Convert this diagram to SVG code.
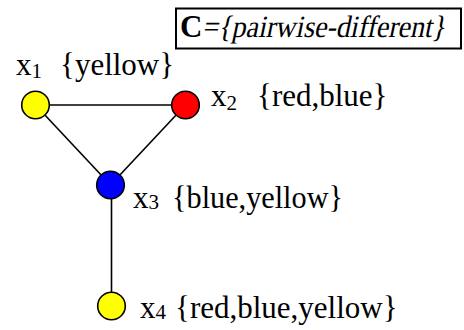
<svg xmlns="http://www.w3.org/2000/svg" width="464" height="330" viewBox="0 0 464 330">
<style>
text{font-family:"Liberation Serif","Times New Roman",serif;font-size:31px;fill:#000}
.sub{font-size:21px}
.edge{stroke:#000;stroke-width:1.6;fill:none}
.node{stroke:#000;stroke-width:1.6}
</style>
<rect width="464" height="330" fill="#fff"/>
<g id="constraint">
<rect x="176" y="8.5" width="285" height="40" fill="none" stroke="#000" stroke-width="2"/>
<text x="180" y="37" font-weight="bold" font-size="29">C</text>
<text x="209.9" y="37" font-size="28" transform="skewX(-12)" textLength="243" lengthAdjust="spacingAndGlyphs">={pairwise-different}</text>
</g>
<g id="edges">
<line class="edge" x1="35.5" y1="105" x2="185.5" y2="105"/>
<line class="edge" x1="35.5" y1="105" x2="110.5" y2="185"/>
<line class="edge" x1="185.5" y1="105" x2="110.5" y2="185"/>
<line class="edge" x1="111.5" y1="185" x2="111.5" y2="306"/>
</g>
<g id="x1">
<circle class="node" cx="35.5" cy="105" r="13.8" fill="#ffff00"/>
<text x="16" y="75">x<tspan class="sub" dy="3">1</tspan></text>
<text x="60" y="75">{yellow}</text>
</g>
<g id="x2">
<circle class="node" cx="185.5" cy="105" r="13.8" fill="#ff0000"/>
<text x="211" y="106">x<tspan class="sub" dy="4">2</tspan></text>
<text x="257" y="106">{red,blue}</text>
</g>
<g id="x3">
<circle class="node" cx="110.5" cy="185" r="13.8" fill="#0000ff"/>
<text x="133" y="208">x<tspan class="sub" dy="1">3</tspan></text>
<text x="172" y="208" textLength="171" lengthAdjust="spacingAndGlyphs">{blue,yellow}</text>
</g>
<g id="x4">
<circle class="node" cx="111.5" cy="306" r="13.8" fill="#ffff00"/>
<text x="140" y="318">x<tspan class="sub" dy="1">4</tspan></text>
<text x="175" y="318">{red,blue,yellow}</text>
</g>
</svg>
